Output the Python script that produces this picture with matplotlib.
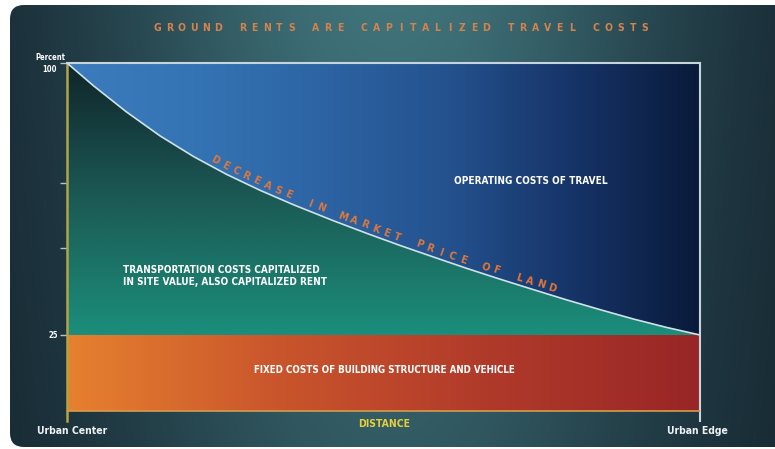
import numpy as np
import matplotlib.pyplot as plt
from matplotlib.patches import Polygon, FancyBboxPatch
from matplotlib.colors import LinearSegmentedColormap
from matplotlib.transforms import IdentityTransform

# data (distance 0 = urban center, 1 = urban edge)
distance = [0, 0.042, 0.094, 0.147, 0.200, 0.252, 0.305, 0.358, 0.421, 0.474,
            0.526, 0.579, 0.631, 0.684, 0.737, 0.789, 0.842, 0.895, 0.947, 1.0]
land_price = [100, 93.7, 86.5, 79.9, 74.2, 69.3, 64.9, 60.9, 56.5, 53.0,
              49.7, 46.5, 43.4, 40.4, 37.5, 34.7, 32.0, 29.4, 27.1, 25]
fixed_top = 25
fixed_base = 4
y_ticks = [25, 49, 67, 100]

title = "GROUND RENTS ARE CAPITALIZED TRAVEL COSTS"
curve_label = "DECREASE IN MARKET PRICE OF LAND"

FONT = 'DejaVu Sans'
W, H = 775, 449
fig = plt.figure(figsize=(W / 100, H / 100), dpi=100)
fig.patch.set_facecolor('white')

def ptxt(x, y, s, **kw):
    kw.setdefault('family', FONT)
    kw.setdefault('fontstretch', 'condensed')
    kw.setdefault('fontweight', 'bold')
    return fig.text(x / W, 1 - y / H, s, **kw)

# background card with soft gradient
bg = fig.add_axes([0, 0, 1, 1])
bg.set_xlim(0, W)
bg.set_ylim(H, 0)
bg.axis('off')
yy, xx = np.mgrid[0:H, 0:W]
f = np.exp(-((xx - 390) / 300) ** 2) * (1 - 0.3 * yy / H)
dark = np.array([0.075, 0.13, 0.17])
light = np.array([0.25, 0.45, 0.48])
img = dark + (light - dark) * f[..., None]
im = bg.imshow(img, extent=(0, W, H, 0), aspect='auto')
card = FancyBboxPatch((10, 5), W + 30, H - 7, boxstyle='round,pad=0,rounding_size=14',
                      transform=bg.transData, facecolor='none', edgecolor='none')
bg.add_patch(card)
im.set_clip_path(card)

# main chart area
x0, x1 = 67, 700
ytop, ybot = 63, 421
ax = fig.add_axes([x0 / W, (H - ybot) / H, (x1 - x0) / W, (ybot - ytop) / H])
px_per = (335 - 63) / 75
ymin = 100 - (ybot - ytop) / px_per
ax.set_xlim(0, 1)
ax.set_ylim(ymin, 100)
ax.patch.set_alpha(0)

def grad_fill(colors, extent, direction, clip_xy):
    cmap = LinearSegmentedColormap.from_list('g', colors)
    g = np.linspace(0, 1, 256)
    arr = g[None, :] if direction == 'h' else g[:, None]
    gi = ax.imshow(arr, cmap=cmap, extent=extent, aspect='auto', origin='lower',
                   interpolation='bilinear', zorder=1)
    poly = Polygon(clip_xy, closed=True, transform=ax.transData,
                   facecolor='none', edgecolor='none')
    ax.add_patch(poly)
    gi.set_clip_path(poly)

curve = list(zip(distance, land_price))
grad_fill(['#3c7cbe', '#3474b4', '#2d64a4', '#24528e', '#163468', '#0a1a3a'],
          (0, 1, fixed_top, 100), 'h', curve + [(1, 100), (0, 100)])
grad_fill(['#1c8e7b', '#1b7468', '#1b5a55', '#163f40', '#0f2629'], (0, 1, fixed_top, 100), 'v',
          curve + [(1, fixed_top), (0, fixed_top)])
grad_fill(['#e6812f', '#c9552c', '#b03a2a', '#982626'], (0, 1, fixed_base, fixed_top), 'h',
          [(0, fixed_base), (1, fixed_base), (1, fixed_top), (0, fixed_top)])

ax.plot(distance, land_price, color='#cfe2ea', lw=1.2, zorder=3)
ax.plot([0, 1], [fixed_base, fixed_base], color='#d89a4c', lw=1.2, zorder=3)

for side in ['top', 'right']:
    ax.spines[side].set_color('#c8d4dc')
    ax.spines[side].set_linewidth(1.5)
ax.spines['left'].set_color('#b3a444')
ax.spines['left'].set_linewidth(1.8)
ax.spines['bottom'].set_visible(False)
ax.set_xticks([])
ax.set_yticks(y_ticks)
ax.set_yticklabels([])
ax.tick_params(axis='y', colors='#b8c0c4', length=5, width=1)

# letter-spaced title
pitch = (645 - 157) / (len(title) - 1)
for i, ch in enumerate(title):
    ptxt(157 + i * pitch, 28, ch, color='#d4834a', fontsize=7.5, ha='center', va='center')

ptxt(50, 58, 'Percent', color='white', fontsize=5.5, ha='center', va='center')
ptxt(50, 70, '100', color='white', fontsize=5.5, ha='center', va='center')
ptxt(53, 336, '25', color='white', fontsize=5.5, ha='center', va='center')
ptxt(531, 181, 'OPERATING COSTS OF TRAVEL', color='white', fontsize=7.2,
     ha='center', va='center')
ptxt(123, 276, 'TRANSPORTATION COSTS CAPITALIZED\nIN SITE VALUE, ALSO CAPITALIZED RENT',
     color='white', fontsize=7.2, ha='left', va='center', linespacing=1.2)
ptxt(384, 370, 'FIXED COSTS OF BUILDING STRUCTURE AND VEHICLE', color='white',
     fontsize=7, ha='center', va='center')
ptxt(384, 424, 'DISTANCE', color='#e6cf3a', fontsize=7.5, ha='center', va='center')
ptxt(72, 431, 'Urban Center', color='#eef2f4', fontsize=7.5, ha='center', va='center')
ptxt(697, 431, 'Urban Edge', color='#eef2f4', fontsize=7.5, ha='center', va='center')

# letters following the curve
pts = ax.transData.transform(np.column_stack([distance, land_price]))
seg = np.hypot(np.diff(pts[:, 0]), np.diff(pts[:, 1]))
s = np.concatenate([[0], np.cumsum(seg)])
s_start = np.interp(212, pts[:, 0], s)
s_end = np.interp(550, pts[:, 0], s)
for i, ch in enumerate(curve_label):
    si = s_start + (s_end - s_start) * i / (len(curve_label) - 1)
    px, py = np.interp(si, s, pts[:, 0]), np.interp(si, s, pts[:, 1])
    ax_, ay_ = np.interp(si - 8, s, pts[:, 0]), np.interp(si - 8, s, pts[:, 1])
    bx_, by_ = np.interp(si + 8, s, pts[:, 0]), np.interp(si + 8, s, pts[:, 1])
    ang = np.arctan2(by_ - ay_, bx_ - ax_)
    nx, ny = -np.sin(ang), np.cos(ang)
    fig.text(px + 7 * nx, py + 7 * ny, ch, transform=IdentityTransform(),
             rotation=np.degrees(ang), rotation_mode='anchor', ha='center', va='center',
             color='#e0783c', fontsize=7, fontweight='bold', family=FONT, zorder=5)

fig.savefig('out.png', dpi=100)
